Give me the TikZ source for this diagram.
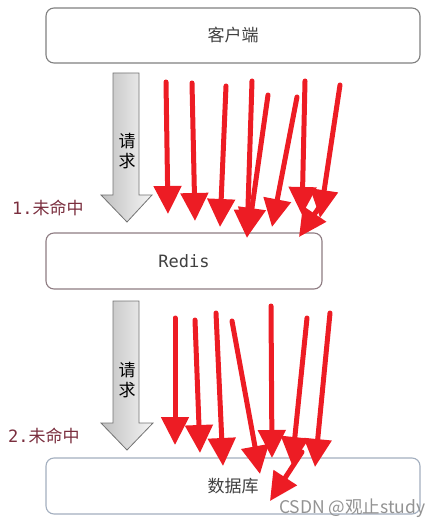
\documentclass[tikz,border=0pt]{standalone}
\usepackage{fontspec}
\newfontfamily\cjk{Noto Sans CJK SC}
\newfontfamily\mono{DejaVu Sans Mono}
\usetikzlibrary{arrows.meta}
\definecolor{arrowred}{HTML}{ED1C24}
\definecolor{labelred}{HTML}{7A2E3E}
\definecolor{boxtext}{HTML}{404040}
\definecolor{clientborder}{HTML}{808080}
\definecolor{redisborder}{HTML}{8E7C82}
\definecolor{dbborder}{HTML}{A3AFBF}
\tikzset{
  box/.style={draw=#1, line width=1.1pt, rounded corners=8pt, fill=white, inner sep=0pt, text=boxtext, font=\fontsize{17}{17}\selectfont},
  redarr/.style={draw=arrowred, line width=5pt, line cap=round, -{Triangle[length=28pt,width=27pt]}},
  greyarr/.style={left color=gray!50, right color=gray!8, draw=gray!90!black, line width=0.8pt},
  misslabel/.style={anchor=west, text=labelred, inner sep=0pt, font=\fontsize{17}{17}\selectfont},
  reqtext/.style={inner sep=0pt, font=\cjk\fontsize{17}{17}\selectfont, align=center}
}
\begin{document}
\begin{tikzpicture}[x=1pt,y=-1pt]
\useasboundingbox (0,0) rectangle (442,526);
% boxes
\node[box=clientborder, minimum width=374pt, minimum height=55pt] (client) at (233,35.5) {\cjk 客户端};
\node[box=redisborder, minimum width=276pt, minimum height=56pt] (redis) at (184,261) {\mono Redis};
\node[box=dbborder, minimum width=374pt, minimum height=56pt] (db) at (233,486) {\cjk 数据库};
% grey request arrows
\shade[greyarr] (113,73) -- (139,73) -- (139,195) -- (152,195) -- (127,222) -- (101,195) -- (113,195) -- cycle;
\shade[greyarr] (113,301) -- (139,301) -- (139,423) -- (153,423) -- (127,450) -- (101,423) -- (113,423) -- cycle;
\node[reqtext] (req1) at (127,151) {请\\[3pt]求};
\node[reqtext] (req2) at (127,380) {请\\[3pt]求};
% labels
\node[misslabel] (miss1) at (12,208) {\mono 1.\cjk 未命中};
\node[misslabel] (miss2) at (8,436) {\mono 2.\cjk 未命中};
% red arrows, top
\draw[redarr] (166,82) -- (168,214);
\draw[redarr] (192,83) -- (195,221);
\draw[redarr] (226,86) -- (220,227);
\draw[redarr] (252,81) -- (247,238);
\draw[redarr] (268,95) -- (248,236);
\draw[redarr] (297,97) -- (272,227);
\draw[redarr] (305,81) -- (302,215);
\draw[redarr] (340,85) -- (320,218);
\draw[redarr] (322,203) -- (299,237);
% red arrows, bottom
\draw[redarr] (175,318) -- (175,445);
\draw[redarr] (195,320) -- (200,453);
\draw[redarr] (216,313) -- (223,466);
\draw[redarr] (232,321) -- (260,474);
\draw[redarr] (271,306) -- (272,458);
\draw[redarr] (307,318) -- (292,465);
\draw[redarr] (330,313) -- (315,467);
\draw[redarr] (302,452) -- (270,501);
% watermark
\node[anchor=west, inner sep=0pt, text=gray!85, font=\cjk\fontsize{17.5}{17.5}\selectfont] (wm) at (279,508) {CSDN @观止study};
\end{tikzpicture}
\end{document}
